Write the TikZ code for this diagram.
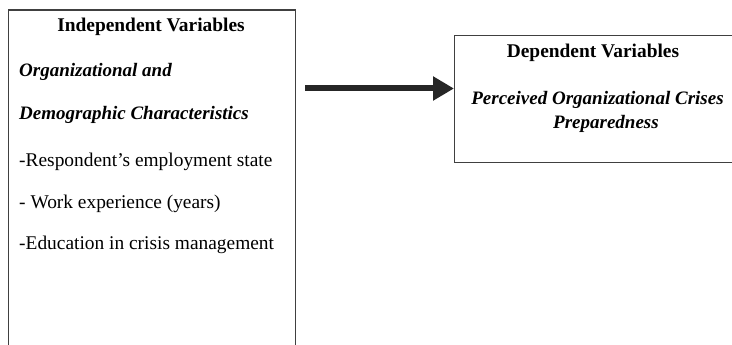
\documentclass[tikz,border=0pt]{standalone}
\usepackage{fontspec}
\setmainfont{Liberation Serif}
\usetikzlibrary{arrows.meta, positioning}
\tikzset{
  varbox/.style={rectangle, draw=black!75, line width=1.3pt, anchor=north west, inner sep=0pt},
  heading/.style={font=\fontsize{19.4}{23}\selectfont\bfseries, anchor=base, inner sep=0pt},
  factor/.style={font=\fontsize{19}{23}\selectfont\bfseries\itshape, anchor=base west, inner sep=0pt},
  item/.style={font=\fontsize{19.4}{23}\selectfont, anchor=base west, inner sep=0pt},
  bigarrow/.style={line width=6pt, -{Triangle[length=21pt,width=23pt]}, color=black!85}
}

\begin{document}
\begin{tikzpicture}[x=1pt, y=-1pt]
  \useasboundingbox (0,0) rectangle (732,345);
  % left box
  \node (indep) [varbox, minimum width=287pt, minimum height=400pt] at (8,9.5) {};
  \node (indephead) [heading] at (151,32) {Independent Variables};
  \node (orgline) [factor] at (19,77) {Organizational and};
  \node (demline) [factor] at (19,120) {Demographic Characteristics};
  \node (resp) [item] at (19,166.5) {-Respondent’s employment state};
  \node (work) [item] at (19,208) {- Work experience (years)};
  \node (educ) [item] at (19,249) {-Education in crisis management};
  % right box
  \node (dep) [varbox, minimum width=300pt, minimum height=127pt] at (454,35) {};
  \node (dephead) [heading] at (593,58) {Dependent Variables};
  \node (perc) [heading, font=\fontsize{19}{23}\selectfont\bfseries\itshape] at (597.5,105) {Perceived Organizational Crises};
  \node (prep) [heading, font=\fontsize{19}{23}\selectfont\bfseries\itshape] at (606,128.3) {Preparedness};
  % arrow
  \coordinate (arrstart) at (305,88.5);
  \draw [bigarrow] (arrstart) -- (dep.west |- arrstart);
\end{tikzpicture}
\end{document}
